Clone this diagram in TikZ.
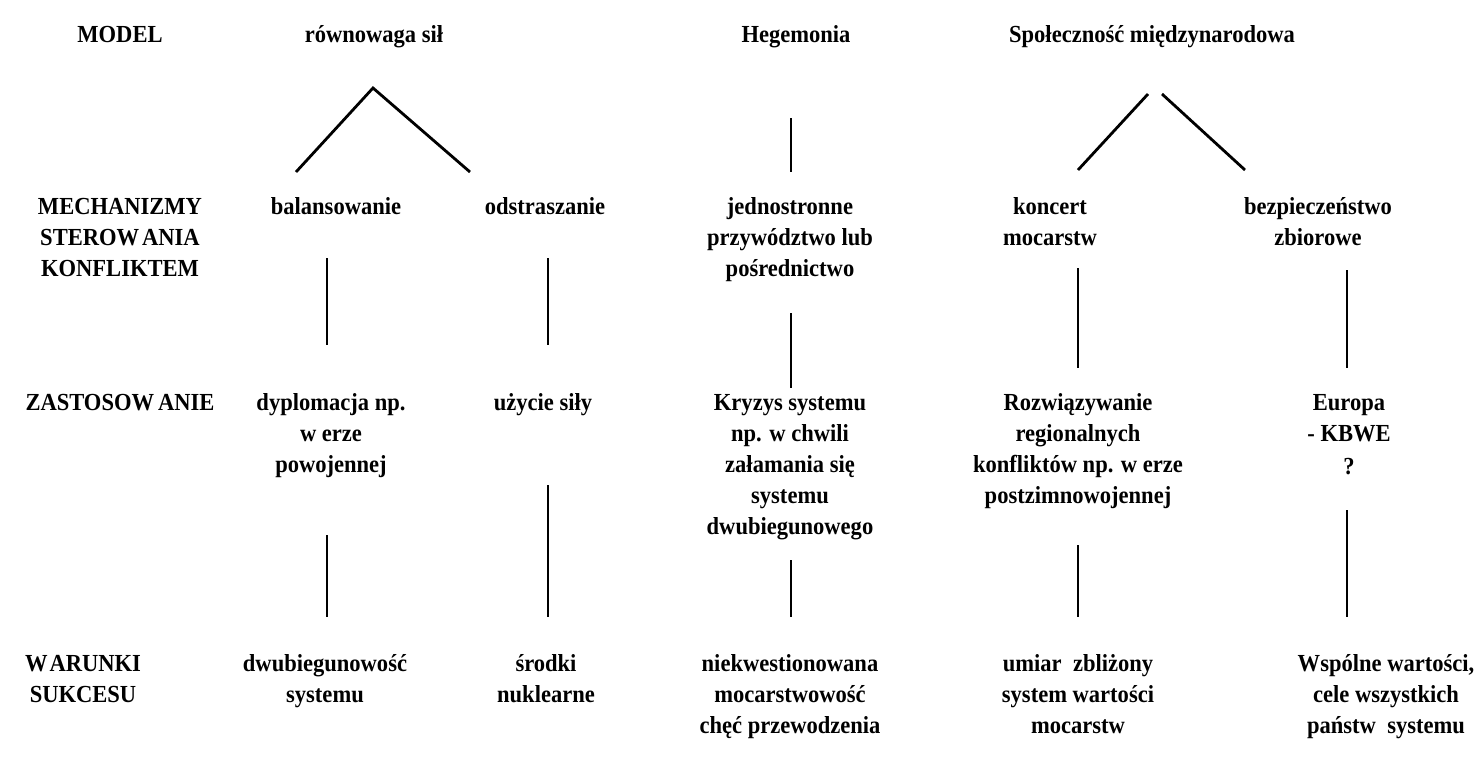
\documentclass[tikz,border=0pt]{standalone}
\usepackage{fontspec}
\setmainfont[FakeStretch=0.92]{Liberation Serif}
\begin{document}
\begin{tikzpicture}[x=1pt,y=-1pt,
  txt/.style={anchor=north,align=center,inner sep=0pt,
    font=\fontsize{24.5}{31}\selectfont\bfseries},
  conn/.style={line width=2.8pt}]
\useasboundingbox[fill=white] (0,0) rectangle (1476,774);
\newcommand{\st}{\rule{0pt}{20pt}}
% row 1
\node[txt] (model) at (120,22) {\st MODEL};
\node[txt] (rs) at (374,22) {\st równowaga sił};
\node[txt] (heg) at (796,22) {\st Hegemonia};
\node[txt] (spm) at (1152,22) {\st Społeczność międzynarodowa};
% row 2
\node[txt] (mech) at (120,194) {\st MECHANIZMY\\STEROW\kern3pt ANIA\\KONFLIKTEM};
\node[txt] (bal) at (336,194) {\st balansowanie};
\node[txt] (ods) at (545,194) {\st odstraszanie};
\node[txt] (jed) at (790,194) {\st jednostronne\\przywództwo lub\\pośrednictwo};
\node[txt] (kon) at (1050,194) {\st koncert\\mocarstw};
\node[txt] (bez) at (1318,194) {\st bezpieczeństwo\\zbiorowe};
% row 3
\node[txt] (zas) at (120,390) {\st ZASTOSOW\kern4pt ANIE};
\node[txt] (dyp) at (331,390) {\st dyplomacja np.\\w erze\\powojennej};
\node[txt] (uzy) at (543,390) {\st użycie siły};
\node[txt] (kry) at (790,390) {\st Kryzys systemu\\np. w chwili\\załamania się\\systemu\\dwubiegunowego};
\node[txt] (roz) at (1078,390) {\st Rozwiązywanie\\regionalnych\\konfliktów np. w erze\\postzimnowojennej};
\node[txt] (eur) at (1349,390) {\st Europa\\- KBWE};
\node[txt] (q) at (1349,454) {\st ?};
% row 4
\node[txt] (war) at (83,651) {\st W\kern2pt ARUNKI\\SUKCESU};
\node[txt] (dwu) at (325,651) {\st dwubiegunowość\\systemu};
\node[txt] (sro) at (546,651) {\st środki\\nuklearne};
\node[txt] (nie) at (790,651) {\st niekwestionowana\\mocarstwowość\\chęć przewodzenia};
\node[txt] (umi) at (1078,651) {\st umiar\ \ zbliżony\\system wartości\\mocarstw};
\node[txt] (wsp) at (1386,651) {\st Wspólne wartości,\\cele wszystkich\\państw\ \ systemu};
% connector end points
\coordinate (rsA) at (373,88);
\coordinate (balT) at (296,172);
\coordinate (odsT) at (470,172);
\coordinate (hegB) at (791,118);
\coordinate (jedT) at (791,172);
\coordinate (spmL) at (1148,94);
\coordinate (spmR) at (1162,94);
\coordinate (konT) at (1078,170);
\coordinate (bezT) at (1245,170);
\coordinate (balB) at (327,258);
\coordinate (dypT) at (327,345);
\coordinate (odsB) at (548,258);
\coordinate (uzyT) at (548,345);
\coordinate (jedB) at (791,313);
\coordinate (kryT) at (791,388);
\coordinate (konB) at (1078,268);
\coordinate (rozT) at (1078,368);
\coordinate (bezB) at (1347,270);
\coordinate (eurT) at (1347,368);
\coordinate (dypB) at (327,535);
\coordinate (dwuT) at (327,617);
\coordinate (uzyB) at (548,485);
\coordinate (sroT) at (548,617);
\coordinate (kryB) at (791,560);
\coordinate (nieT) at (791,617);
\coordinate (rozB) at (1078,545);
\coordinate (umiT) at (1078,617);
\coordinate (eurB) at (1347,510);
\coordinate (wspT) at (1347,617);
% connectors
\draw[conn] (balT) -- (rsA) -- (odsT);
\draw[conn] (hegB) -- (jedT);
\draw[conn] (spmL) -- (konT);
\draw[conn] (spmR) -- (bezT);
\draw[conn] (balB) -- (dypT);
\draw[conn] (odsB) -- (uzyT);
\draw[conn] (jedB) -- (kryT);
\draw[conn] (konB) -- (rozT);
\draw[conn] (bezB) -- (eurT);
\draw[conn] (dypB) -- (dwuT);
\draw[conn] (uzyB) -- (sroT);
\draw[conn] (kryB) -- (nieT);
\draw[conn] (rozB) -- (umiT);
\draw[conn] (eurB) -- (wspT);
\end{tikzpicture}
\end{document}
